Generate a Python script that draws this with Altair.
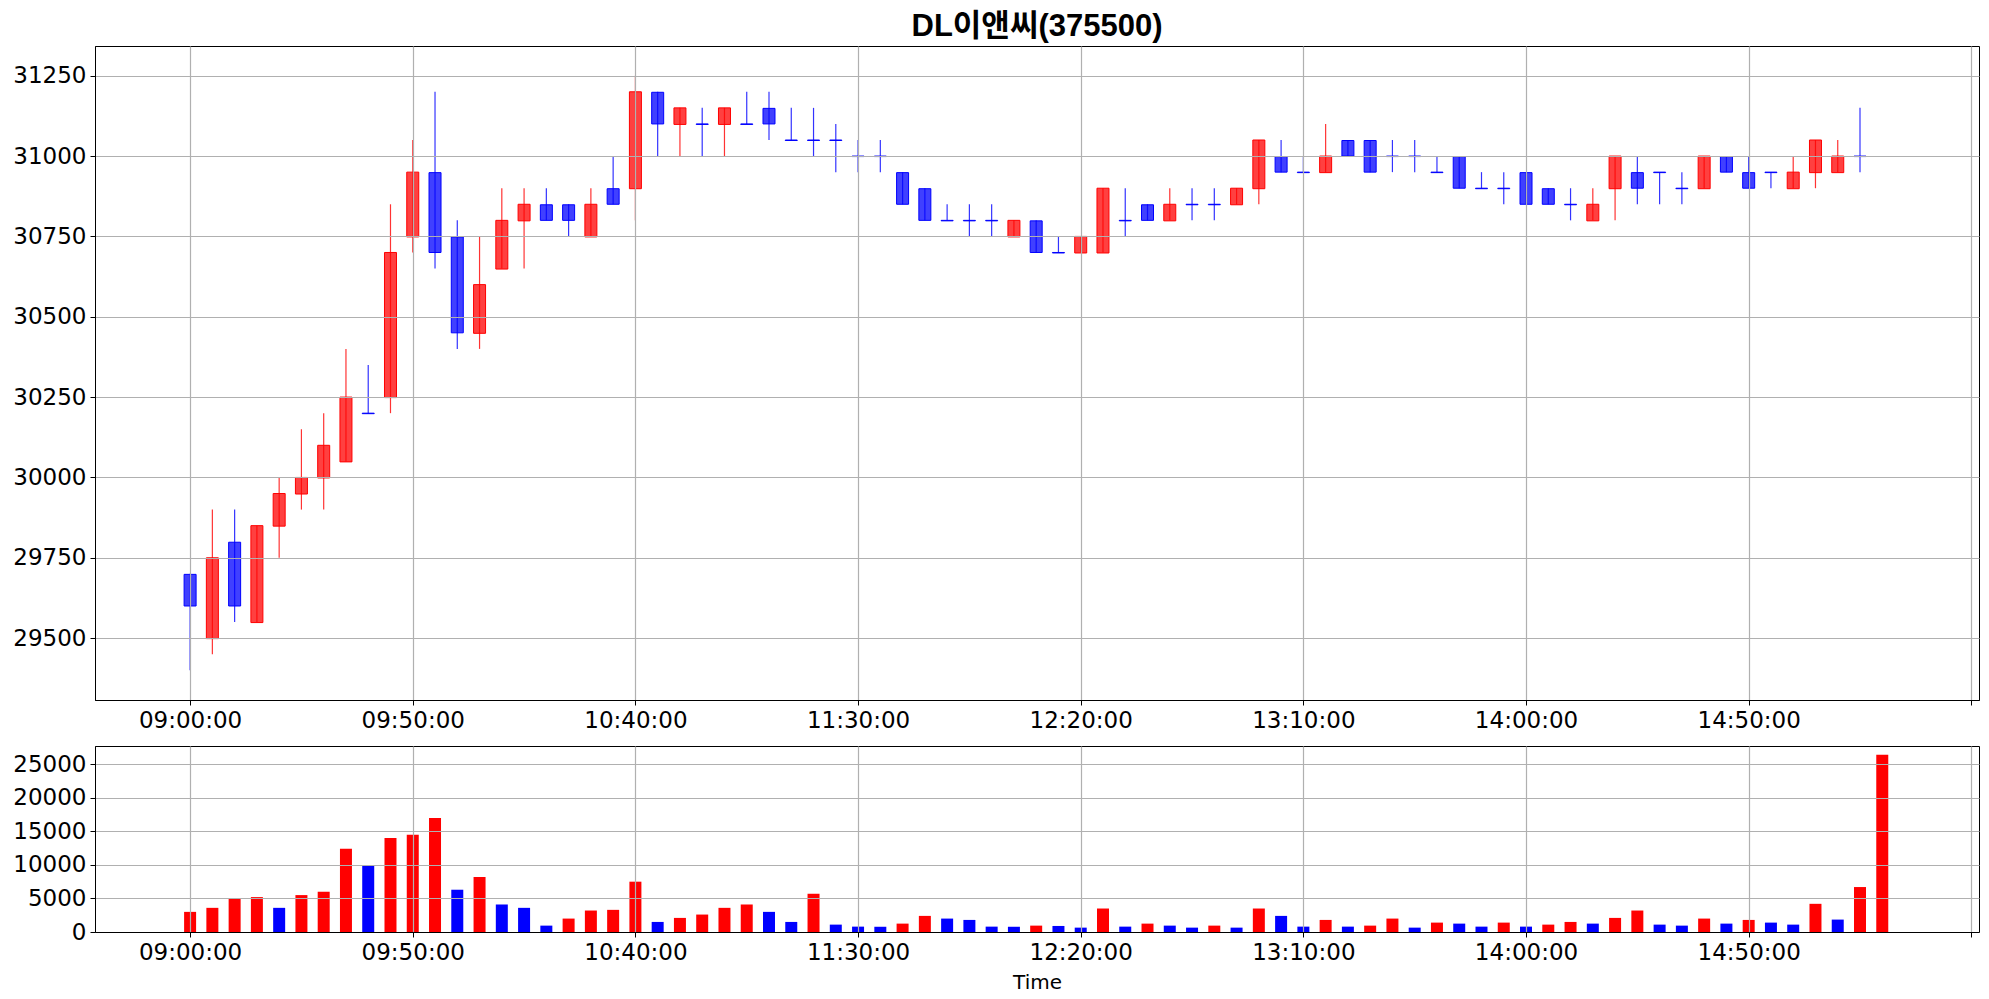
import altair as alt
import pandas as pd

# ---- data (5-minute candles, DL이앤씨 375500) ----
times = [f"{9 + (5 * i) // 60:02d}:{(5 * i) % 60:02d}" for i in range(77)]  # 09:00 .. 15:20

opens = [29700, 29500, 29800, 29550, 29850, 29950, 30000, 30050, 30200, 30250,
         30750, 30950, 30750, 30450, 30650, 30800, 30850, 30850, 30750, 30900,
         30900, 31200, 31100, 31100, 31100, 31100, 31150, 31050, 31050, 31050,
         31000, 31000, 30950, 30900, 30800, 30800, 30800, 30750, 30800, 30700,
         30700, 30700, 30800, 30850, 30800, 30850, 30850, 30850, 30900, 31000,
         30950, 30950, 31050, 31050, 31000, 31000, 30950, 31000, 30900, 30900,
         30950, 30900, 30850, 30800, 30900, 30950, 30950, 30900, 30900, 31000,
         30950, 30950, 30900, 30950, 30950, 31000]
highs = [29700, 29900, 29900, 29850, 30000, 30150, 30200, 30400, 30350, 30850,
         31050, 31200, 30800, 30750, 30900, 30900, 30900, 30850, 30900, 31000,
         31250, 31200, 31150, 31150, 31150, 31200, 31200, 31150, 31150, 31100,
         31050, 31050, 30950, 30900, 30850, 30850, 30850, 30800, 30800, 30750,
         30750, 30900, 30900, 30850, 30900, 30900, 30900, 30900, 31050, 31050,
         31000, 31100, 31050, 31050, 31050, 31050, 31000, 31000, 30950, 30950,
         30950, 30900, 30900, 30900, 31000, 31000, 30950, 30950, 31000, 31000,
         31000, 30950, 31000, 31050, 31050, 31150]
lows = [29400, 29450, 29550, 29550, 29750, 29900, 29900, 30050, 30200, 30200,
        30700, 30650, 30400, 30400, 30650, 30650, 30800, 30750, 30750, 30850,
        30800, 31000, 31000, 31000, 31000, 31100, 31050, 31050, 31000, 30950,
        30950, 30950, 30850, 30800, 30800, 30750, 30750, 30750, 30700, 30700,
        30700, 30700, 30750, 30800, 30800, 30800, 30800, 30850, 30850, 30950,
        30950, 30950, 31000, 30950, 30950, 30950, 30950, 30900, 30900, 30850,
        30850, 30850, 30800, 30800, 30800, 30850, 30850, 30850, 30900, 30950,
        30900, 30900, 30900, 30900, 30950, 30950]
closes = [29600, 29750, 29600, 29850, 29950, 30000, 30100, 30250, 30200, 30700,
          30950, 30700, 30450, 30600, 30800, 30850, 30800, 30800, 30850, 30850,
          31200, 31100, 31150, 31100, 31150, 31100, 31100, 31050, 31050, 31050,
          31000, 31000, 30850, 30800, 30800, 30800, 30800, 30800, 30700, 30700,
          30750, 30900, 30800, 30800, 30850, 30850, 30850, 30900, 31050, 30950,
          30950, 31000, 31000, 30950, 31000, 31000, 30950, 30900, 30900, 30900,
          30850, 30850, 30850, 30850, 31000, 30900, 30950, 30900, 31000, 30950,
          30900, 30950, 30950, 31050, 31000, 31000]
volumes = [3000, 3600, 5000, 5200, 3600, 5500, 6000, 12400, 9900, 14000,
           14500, 17000, 6300, 8200, 4100, 3600, 950, 2000, 3200, 3300,
           7500, 1500, 2100, 2600, 3600, 4100, 3000, 1500, 5700, 1100,
           800, 780, 1250, 2400, 2000, 1800, 800, 780, 950, 900,
           650, 3500, 800, 1250, 950, 650, 950, 650, 3500, 2400,
           800, 1800, 800, 950, 2000, 650, 1400, 1250, 800, 1400,
           800, 1100, 1500, 1250, 2100, 3200, 1100, 950, 2000, 1250,
           1800, 1400, 1100, 4200, 1850, 6700, 26400]

price_ticks = [29500, 29750, 30000, 30250, 30500, 30750, 31000, 31250]
volume_ticks = [0, 5000, 10000, 15000, 20000, 25000]
time_ticks = ["09:00", "09:50", "10:40", "11:30", "12:20", "13:10", "14:00", "14:50", "15:40"]

TITLE = "DL이앤씨(375500)"
DAY = "2024-01-02"

# ---- tables ----
n = len(opens)
candles = pd.DataFrame({
    "t": [f"{DAY}T{s}:00" for s in times[:n]],
    "open": opens, "high": highs, "low": lows, "close": closes,
})
candles["dir"] = ["up" if c > o else "down" for o, c in zip(opens, closes)]

vol = pd.DataFrame({"t": [f"{DAY}T{s}:00" for s in times], "volume": volumes})
vol["dir"] = ["up" if (i == 0 or v > volumes[i - 1]) else "down" for i, v in enumerate(volumes)]


def dt(hh, mm, ss=0):
    return alt.DateTime(year=2024, month=1, date=2, hours=hh, minutes=mm, seconds=ss)


x_domain = [dt(8, 39, 46), dt(15, 40, 36)]
x_values = [dt(int(s[:2]), int(s[3:])) for s in time_ticks]
label_expr = "hours(datum.value) == 15 && minutes(datum.value) == 40 ? '' : datum.label"

color_scale = alt.Scale(domain=["up", "down"], range=["#ff0000", "#0000ff"])

W = 1884

x_top = alt.X("t:T", scale=alt.Scale(domain=x_domain),
              axis=alt.Axis(values=x_values, format="%H:%M:%S", labelExpr=label_expr,
                            title=None, zindex=1, grid=True))
x_bot = alt.X("t:T", scale=alt.Scale(domain=x_domain),
              axis=alt.Axis(values=x_values, format="%H:%M:%S", labelExpr=label_expr,
                            title="Time", zindex=1, grid=True))

body = alt.Chart(candles).mark_bar(size=12, fillOpacity=0.75, strokeWidth=1, yOffset=0.5).encode(
    x=x_top,
    y=alt.Y("open:Q", scale=alt.Scale(domain=[29307.5, 31342.5], nice=False, zero=False),
            axis=alt.Axis(values=price_ticks, format="d", title=None, zindex=1, grid=True)),
    y2="close:Q",
    fill=alt.Fill("dir:N", scale=color_scale, legend=None),
    stroke=alt.Stroke("dir:N", scale=color_scale, legend=None),
)
wick = alt.Chart(candles).mark_rule(strokeWidth=1.2, opacity=0.8).encode(
    x=alt.X("t:T"),
    y=alt.Y("low:Q"),
    y2="high:Q",
    color=alt.Color("dir:N", scale=color_scale, legend=None),
)
top = alt.layer(body, wick).properties(
    width=W, height=654,
    title=alt.Title(TITLE, font="Liberation Sans, Noto Sans CJK KR", fontSize=31,
                    fontWeight="bold", color="black", anchor="middle", offset=3),
)

bottom = alt.Chart(vol).mark_bar(size=12).encode(
    x=x_bot,
    y=alt.Y("volume:Q", scale=alt.Scale(domain=[0, 27720], nice=False),
            axis=alt.Axis(values=volume_ticks, format="d", title=None, zindex=1, grid=True)),
    color=alt.Color("dir:N", scale=color_scale, legend=None),
).properties(width=W, height=186)

chart = alt.vconcat(top, bottom, spacing=12).resolve_scale(
    color="independent", fill="independent", stroke="independent"
).properties(
    padding={"left": 4, "top": 2, "right": 0, "bottom": 0}
).configure_axis(
    labelFont="DejaVu Sans", labelFontSize=23, labelColor="black",
    tickColor="black", tickSize=5, tickWidth=1, labelPadding=4,
    domainColor="black", domainWidth=1,
    gridColor="#b0b0b0", gridWidth=1.2,
    titleFont="DejaVu Sans", titleFontSize=20, titleColor="black",
    titleFontWeight="normal", titlePadding=8,
).configure_view(
    stroke="black", strokeWidth=1
)

chart.save("out.html", embed_options={"renderer": "svg", "actions": False})
